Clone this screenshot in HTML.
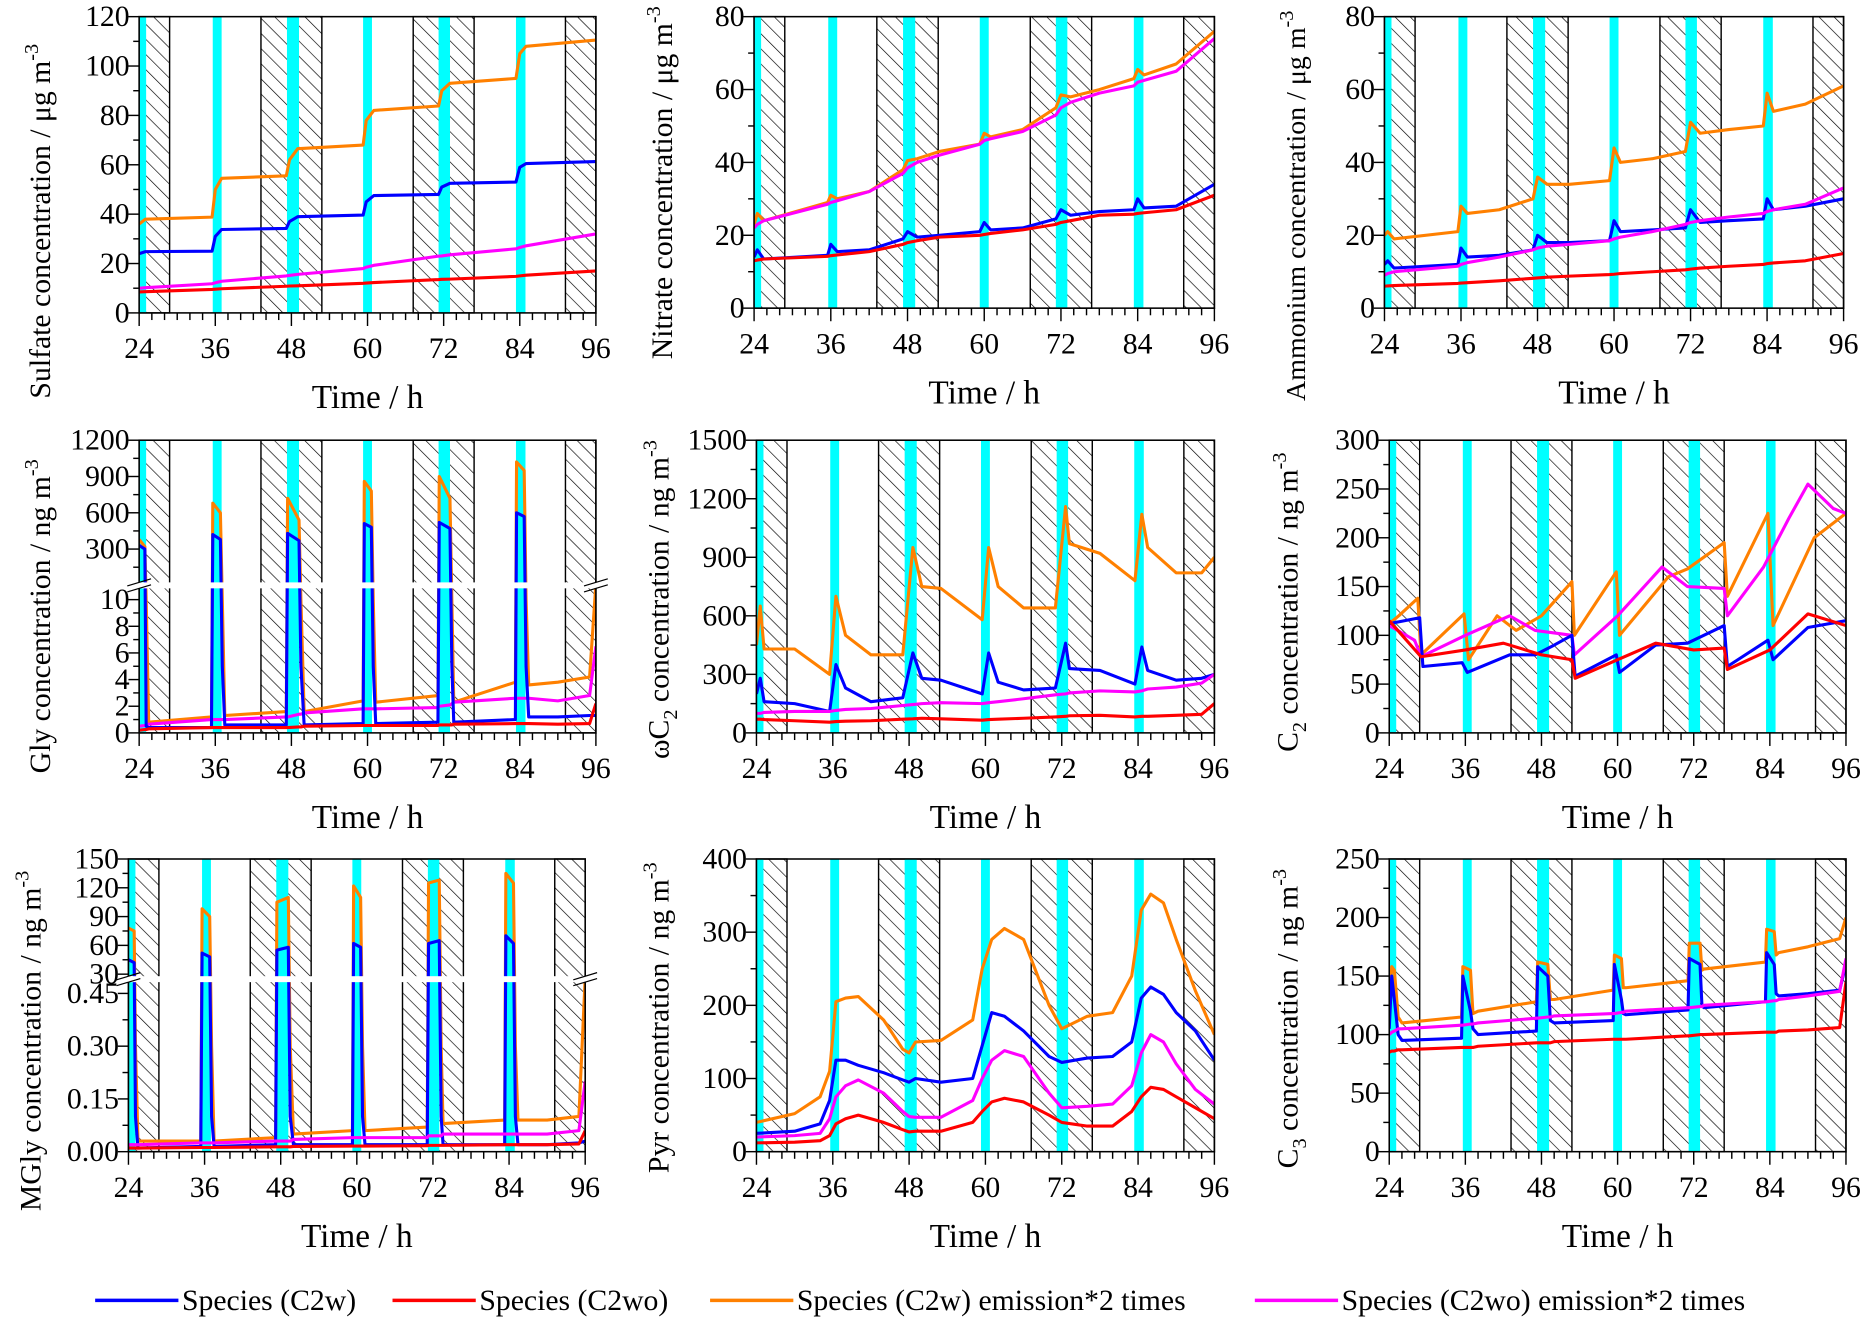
<!DOCTYPE html>
<html><head><meta charset="utf-8"><style>
html,body{margin:0;padding:0;background:#fff;}
svg{display:block;font-family:"Liberation Serif",serif;}
</style></head><body>
<svg id="fig" width="1865" height="1323" viewBox="0 0 1568 1112" preserveAspectRatio="none" xmlns="http://www.w3.org/2000/svg">
<defs>
<pattern id="hatch" patternUnits="userSpaceOnUse" width="9" height="9" patternTransform="rotate(-45)">
<line x1="0" y1="-1" x2="0" y2="10" stroke="#000" stroke-width="1.1"/>
</pattern>
</defs>
<rect x="0" y="0" width="1568" height="1112" fill="#fff"/>
</svg>
<script>
// ---- shared shading periods ----
const nightStart=[24,43.2,67.2,91.2];
const nightEnd=[28.8,52.8,76.8,96];
const cyanStart=[24,35.6,47.3,59.3,71.2,83.4];
const cyanEnd=[25.1,37.0,49.2,60.7,73.0,84.9];
const xTicks=[24,36,48,60,72,84,96];

// ---- Panel 1 Sulfate ----
const p1_t=[24,25,35.5,36,37,47.2,47.7,49,59.3,59.8,61,71.2,71.7,73,83.4,84,85,96];
const p1_orange=[36,38,38.8,50,54.5,55.5,62,66.5,68,78,82,83.8,90,93,95,105,108,110.5];
const p1_blue=[24,24.8,25,31,33.8,34.2,37,39,39.6,45,47.5,48,51,52.5,53,59,60.5,61.3];
const p1_magenta=[10,10.2,11.8,12.2,12.8,15,15.2,15.6,18,18.5,19.3,23,23.1,23.5,26,26.5,27.2,32];
const p1_red=[8.5,8.6,9.5,9.6,9.8,10.8,10.9,11,12,12.1,12.3,13.5,13.6,13.7,14.8,15,15.3,17];
// ---- Panel 2 Nitrate ----
const p2_t=[24,24.5,25.5,35.5,36,37,42,47.3,48,49.5,53,59.3,60,61,66,71.2,72,73.5,78,83.4,84,85,90,96];
const p2_orange=[23,26,24,29,31,30,32,38,40.5,41,43,45,48,47,49,55,58.5,58,60,63,65.5,64,67,76];
const p2_magenta=[22,23,24,28.5,29,29.5,32,37,38.5,40,42,45,46,46.5,48.5,53,55,56.5,59,61,62,62.5,65,74];
const p2_blue=[14,16,13.5,14.5,17.5,15.5,16,19,21,19.5,20,21,23.5,21.5,22,24.5,27,25.5,26.5,27,30,27.5,28,34];
const p2_red=[13,13.2,13.5,14.2,14.4,14.6,15.5,17.5,18,18.5,19.5,20,20.2,20.5,21.5,23,23.5,24,25.5,25.8,26,26.2,27,31];
// ---- Panel 3 Ammonium ----
const p3_t=p2_t;
const p3_orange=[20,21,19,21,28,26,27,30,36,34,34,35,44,40,41,43,51,48,49,50,59,54,56,61];
const p3_blue=[12,13,11,12,16.5,14,14.5,16,20,18,18,18.5,24,21,21.5,22,27,23.5,24,24.5,30,27,28,30];
const p3_magenta=[9,9.5,10,11.5,12,12.5,14,16,16.5,17,17.5,18.5,19,19.5,21,23,23.5,24,25,26,26.5,27,28.5,33];
const p3_red=[6,6.1,6.2,6.8,6.9,7,7.5,8.2,8.3,8.5,8.8,9.2,9.3,9.5,10,10.5,10.7,11,11.5,12,12.2,12.4,13,15];
// ---- Panel 4 Gly ----
const p4_t=[24,24.9,25.1,25.5,35.4,35.6,36.8,37.1,37.5,47.2,47.4,49.2,49.5,50,59.3,59.5,60.6,60.9,61.3,71.1,71.3,73,73.3,73.6,83.3,83.5,84.7,85,85.4,90,95,96];
const p4_orange=[380,320,10,0.8,1.2,680,600,10,1.3,1.6,720,540,10,1.6,2.4,860,780,10,2.3,2.8,900,720,10,2.3,3.8,1020,950,10,3.6,3.8,4.2,11];
const p4_blue=[330,300,0.5,0.4,0.4,420,380,5,0.6,0.6,430,370,5,0.6,0.7,510,480,5,0.7,0.8,520,470,5,0.8,1.0,600,570,5,1.2,1.2,1.3,1.3];
const p4_magenta=[0.5,0.55,0.6,0.65,1.0,1.0,1.0,1.0,1.0,1.2,1.2,1.4,1.4,1.5,1.8,1.8,1.8,1.8,1.8,1.9,2.0,2.1,2.2,2.3,2.6,2.6,2.6,2.6,2.6,2.4,2.8,6.5];
const p4_red=[0.2,0.25,0.25,0.3,0.4,0.4,0.4,0.4,0.4,0.4,0.4,0.45,0.45,0.5,0.55,0.55,0.55,0.55,0.55,0.55,0.6,0.6,0.6,0.65,0.7,0.7,0.7,0.7,0.7,0.65,0.7,2.2];
// ---- Panel 5 wC2 ----
const p5_t=[24,24.6,25.2,30,35.5,36.5,38,42,47,48.6,50,53,59.5,60.5,62,66,71,72.6,73.2,78,83.5,84.6,85.5,90,94,96];
const p5_orange=[450,650,430,430,300,700,500,400,400,950,750,740,580,950,750,640,640,1160,970,920,780,1120,950,820,820,900];
const p5_blue=[200,280,160,150,110,350,230,160,180,410,280,270,200,410,260,220,230,460,330,320,250,440,320,270,280,300];
const p5_magenta=[100,100,105,110,110,115,120,125,140,145,150,155,150,155,160,175,195,200,205,215,210,215,225,235,255,300];
const p5_red=[70,70,68,62,55,58,60,62,70,72,75,72,65,68,70,75,82,85,88,90,82,85,85,90,95,150];
// ---- Panel 6 C2 ----
const p6_orange_t=[24,25.5,28.5,29,35.8,36.5,41,44,48,52.8,53.2,59.8,60.3,68,71,76.8,77.3,83.7,84.5,91,96];
const p6_orange=[112,120,138,80,122,75,120,105,120,155,100,165,100,160,168,195,140,225,110,200,225];
const p6_magenta_t=[24,28,29,36,43,47,52.8,53.2,60,67,71,76.8,77.3,83,87,90,94,96];
const p6_magenta=[110,95,78,100,120,105,100,80,120,170,150,148,120,170,220,255,230,225];
const p6_blue_t=[24,28.8,29.3,35.5,36.3,43,47,50,52.8,53.3,59.8,60.3,66,71,76.8,77.3,83.7,84.5,90,96];
const p6_blue=[112,118,68,72,62,80,80,90,100,58,80,62,90,92,110,68,95,75,108,115];
const p6_red_t=[24,29,36,42,48,52.8,53.3,60,66,72,76.8,77.3,84,90,96];
const p6_red=[115,78,85,92,80,75,56,75,92,85,87,65,85,122,110];
// ---- Panel 7 MGly ----
const p7_t=p4_t;
const p7_orange=[78,75,0.3,0.03,0.03,98,90,0.3,0.03,0.04,105,110,0.3,0.05,0.06,122,110,0.3,0.06,0.07,125,128,0.3,0.08,0.09,135,125,0.3,0.09,0.09,0.1,0.5];
const p7_blue=[45,42,0.1,0.01,0.015,52,48,0.1,0.015,0.02,55,58,0.1,0.02,0.02,62,58,0.1,0.02,0.02,62,65,0.1,0.02,0.02,70,62,0.1,0.02,0.02,0.025,0.03];
const p7_magenta=[0.02,0.02,0.02,0.02,0.025,0.025,0.025,0.025,0.025,0.03,0.03,0.03,0.03,0.035,0.04,0.04,0.04,0.04,0.04,0.04,0.045,0.045,0.045,0.05,0.05,0.05,0.05,0.05,0.05,0.05,0.06,0.2];
const p7_red=[0.01,0.01,0.01,0.01,0.012,0.012,0.012,0.012,0.012,0.014,0.014,0.014,0.014,0.015,0.016,0.016,0.016,0.016,0.016,0.017,0.018,0.018,0.018,0.018,0.02,0.02,0.02,0.02,0.02,0.02,0.022,0.06];
// ---- Panel 8 Pyr ----
const p8_t=[24,30,34,35.5,36.5,38,40,44,47,48,49,53,58,59.5,61,63,66,70,72,76,80,83,84.5,86,88,90,93,96];
const p8_orange=[40,52,75,110,205,210,212,180,140,135,150,152,180,250,290,305,290,200,168,185,190,240,330,352,340,290,220,160];
const p8_blue=[25,28,38,70,125,125,118,108,98,95,100,95,100,145,190,185,165,130,122,128,130,150,210,225,215,190,165,125];
const p8_magenta=[20,22,25,45,75,90,98,80,55,48,47,47,70,100,125,138,130,80,60,62,65,90,135,160,150,120,85,65];
const p8_red=[12,13,15,22,38,45,50,40,30,27,28,28,40,55,68,73,68,50,40,35,35,55,75,88,85,75,60,45];
// ---- Panel 9 C3 ----
const p9_t=[24,24.4,24.8,25.4,26,35.4,35.6,36.8,37.2,38,47.2,47.4,49.0,49.4,50,59.3,59.5,60.6,60.9,61.3,71.1,71.3,73,73.3,73.6,83.3,83.5,84.7,85,85.4,90,95,96];
const p9_orange=[120,158,155,115,110,115,158,155,118,120,128,162,160,130,130,138,168,165,140,140,146,178,178,155,156,162,190,188,168,170,175,182,200];
const p9_blue=[105,150,130,100,95,97,150,120,105,100,103,158,150,112,110,112,160,130,118,117,121,165,160,125,123,128,170,160,135,133,135,138,160];
const p9_magenta=[100,102,103,105,105,108,108,109,109,110,114,114,115,115,116,118,118,119,119,120,123,123,124,124,125,128,128,129,129,130,133,137,165];
const p9_red=[85,86,86,87,87,89,89,89,89,90,93,93,93,93,94,96,96,96,96,96,99,99,100,100,100,102,102,102,102,103,104,106,145];

const COL={blue:"#0000ff",red:"#ff0000",orange:"#ff8000",magenta:"#ff00ff"};
const NS="http://www.w3.org/2000/svg";
const svg=document.getElementById('fig');
function mk(tag,attrs,parent){const e=document.createElementNS(NS,tag);for(const k in attrs)e.setAttribute(k,attrs[k]);(parent||svg).appendChild(e);return e;}

function linScale(y0,y1,max){return v=>y1-v/max*(y1-y0);}
function brokenScale(lowZero,lowPpu,lowMax,upZero,upPpu,breakY){
  return v=> v<=lowMax ? lowZero-v*lowPpu : Math.min(breakY, upZero-v*upPpu);
}

const panels=[
 {id:'sulfate',x0:117,x1:501,y0:14,y1:263,ys:linScale(14,263,120),maj:[0,20,40,60,80,100,120],min:[10,30,50,70,90,110],titleX:33,titleY:335,
  title:['Sulfate concentration / μg m','-3'],
  series:[['orange',p1_t,p1_orange],['blue',p1_t,p1_blue],['magenta',p1_t,p1_magenta],['red',p1_t,p1_red]]},
 {id:'nitrate',x0:634,x1:1021,y0:14,y1:259,ys:linScale(14,259,80),maj:[0,20,40,60,80],min:[10,30,50,70],titleX:556,titleY:302,
  title:['Nitrate concentration / μg m','-3'],
  series:[['orange',p2_t,p2_orange],['magenta',p2_t,p2_magenta],['blue',p2_t,p2_blue],['red',p2_t,p2_red]]},
 {id:'ammonium',x0:1164,x1:1550,y0:14,y1:259,ys:linScale(14,259,80),maj:[0,20,40,60,80],min:[10,30,50,70],titleX:1088,titleY:337,fs:23.5,
  title:['Ammonium concentration / μg m','-3'],
  series:[['orange',p3_t,p3_orange],['blue',p3_t,p3_blue],['magenta',p3_t,p3_magenta],['red',p3_t,p3_red]]},
 {id:'gly',x0:117,x1:501,y0:370,y1:616,ys:brokenScale(616,11.2,10.9,492,122/1200,491),maj:[0,2,4,6,8,10,300,600,900,1200],min:[1,3,5,7,9,150,450,750,1050],titleX:33,titleY:650,
  labels:{0:'0',2:'2',4:'4',6:'6',8:'8',10:'10',300:'300',600:'600',900:'900',1200:'1200'},breakY:492,
  title:['Gly concentration / ng m','-3'],
  series:[['orange',p4_t,p4_orange],['magenta',p4_t,p4_magenta],['blue',p4_t,p4_blue],['red',p4_t,p4_red]]},
 {id:'wc2',x0:636,x1:1021,y0:370,y1:616,ys:linScale(370,616,1500),maj:[0,300,600,900,1200,1500],min:[150,450,750,1050,1350],titleX:553,titleY:638,
  title:['ωC','2',' concentration / ng m','-3'],
  series:[['orange',p5_t,p5_orange],['blue',p5_t,p5_blue],['magenta',p5_t,p5_magenta],['red',p5_t,p5_red]]},
 {id:'c2',x0:1168,x1:1552,y0:370,y1:616,ys:linScale(370,616,300),maj:[0,50,100,150,200,250,300],min:[25,75,125,175,225,275],titleX:1082,titleY:632,
  title:['C','2',' concentration / ng m','-3'],
  series:[['orange',p6_orange_t,p6_orange],['magenta',p6_magenta_t,p6_magenta],['blue',p6_blue_t,p6_blue],['red',p6_red_t,p6_red]]},
 {id:'mgly',x0:108,x1:492,y0:722,y1:968,ys:brokenScale(968,295.6,0.487,843,121/150,822),maj:[0,0.15,0.3,0.45,30,60,90,120,150],min:[0.075,0.225,0.375,45,75,105,135],titleX:25,titleY:1018,
  labels:{0:'0.00',0.15:'0.15',0.3:'0.30',0.45:'0.45',30:'30',60:'60',90:'90',120:'120',150:'150'},breakY:823,
  title:['MGly concentration / ng m','-3'],
  series:[['orange',p7_t,p7_orange],['blue',p7_t,p7_blue],['magenta',p7_t,p7_magenta],['red',p7_t,p7_red]]},
 {id:'pyr',x0:636,x1:1021,y0:722,y1:968,ys:linScale(722,968,400),maj:[0,100,200,300,400],min:[50,150,250,350],titleX:553,titleY:986,
  title:['Pyr concentration / ng m','-3'],
  series:[['orange',p8_t,p8_orange],['blue',p8_t,p8_blue],['magenta',p8_t,p8_magenta],['red',p8_t,p8_red]]},
 {id:'c3',x0:1168,x1:1552,y0:722,y1:968,ys:linScale(722,968,250),maj:[0,50,100,150,200,250],min:[25,75,125,175,225],titleX:1082,titleY:982,
  title:['C','3',' concentration / ng m','-3'],
  series:[['orange',p9_t,p9_orange],['blue',p9_t,p9_blue],['magenta',p9_t,p9_magenta],['red',p9_t,p9_red]]}
];

panels.forEach((p,pi)=>{
  const g=mk('g',{});
  
  
  const xs=t=>p.x0+(t-24)/72*(p.x1-p.x0);
  const H=p.y1-p.y0;
  const clipId='clip'+pi;
  const cp=mk('clipPath',{id:clipId},g);
  mk('rect',{x:p.x0,y:p.y0,width:p.x1-p.x0,height:H},cp);
  nightStart.forEach((s,i)=>{
    const r=mk('rect',{x:xs(s),y:p.y0,width:xs(nightEnd[i])-xs(s),height:H,fill:'url(#hatch)',stroke:'#000','stroke-width':1.2},g);
    
    
  });
  cyanStart.forEach((s,i)=>{
    const r=mk('rect',{x:xs(s),y:p.y0,width:xs(cyanEnd[i])-xs(s),height:H,fill:'#00ffff'},g);
    
    
  });
  const sg=mk('g',{'clip-path':'url(#'+clipId+')'},g);
  p.series.forEach(s=>{
    const [c,ts,vs]=s;
    const d=ts.map((t,i)=>(i?'L':'M')+xs(t).toFixed(1)+','+p.ys(vs[i]).toFixed(1)).join('');
    const path=mk('path',{d:d,fill:'none',stroke:COL[c],'stroke-width':2.6,'stroke-linejoin':'round'},sg);
    
    
  });
  if(p.breakY){
    mk('rect',{x:p.x0+1,y:p.breakY-2.5,width:p.x1-p.x0-2,height:5,fill:'#fff'},g);
  }
  const fr=mk('rect',{x:p.x0,y:p.y0,width:p.x1-p.x0,height:H,fill:'none',stroke:'#000','stroke-width':1.3},g);
  
  
  if(p.breakY){
    mk('rect',{x:p.x0-4,y:p.breakY-2.5,width:8,height:5,fill:'#fff'},g);
    mk('rect',{x:p.x1-4,y:p.breakY-2.5,width:8,height:5,fill:'#fff'},g);
    [-2.5,2.5].forEach(o=>{
      mk('line',{x1:p.x0-10,y1:p.breakY+o+3,x2:p.x0+10,y2:p.breakY+o-3,stroke:'#000','stroke-width':1},g);
      mk('line',{x1:p.x1-10,y1:p.breakY+o+3,x2:p.x1+10,y2:p.breakY+o-3,stroke:'#000','stroke-width':1},g);
    });
  }
  for(let t=24;t<=96;t+=2){
    const major=(t-24)%12===0;
    mk('line',{x1:xs(t),y1:p.y1,x2:xs(t),y2:p.y1+(major?11:6),stroke:'#000','stroke-width':1.2},g);
  }
  xTicks.forEach(t=>{
    const tx=mk('text',{x:xs(t),y:p.y1+38,'font-size':25,'text-anchor':'middle'},g);
    tx.textContent=t;
    
    
  });
  const xt=mk('text',{x:(p.x0+p.x1)/2,y:p.y1+80,'font-size':28,'text-anchor':'middle'},g);
  xt.textContent='Time / h';
  
  
  p.maj.forEach(v=>{
    const y=p.ys(v);
    mk('line',{x1:p.x0-9,y1:y,x2:p.x0,y2:y,stroke:'#000','stroke-width':1.2},g);
    const tx=mk('text',{x:p.x0-8,y:y+8,'font-size':25,'text-anchor':'end'},g);
    tx.textContent=p.labels?p.labels[v]:String(v);
    
    
  });
  p.min.forEach(v=>{
    const y=p.ys(v);
    mk('line',{x1:p.x0-5,y1:y,x2:p.x0,y2:y,stroke:'#000','stroke-width':1.2},g);
  });
  const fs=p.fs||25;
  const yt=mk('text',{x:0,y:0,'font-size':fs,'text-anchor':'start',transform:'translate('+(p.titleX+9)+','+p.titleY+') rotate(-90)'},g);
  
  
  const parts=p.title;
  if(parts.length===2){
    const a=mk('tspan',{},yt);a.textContent=parts[0];
    const b=mk('tspan',{dy:-10,'font-size':17},yt);b.textContent=parts[1];
  } else {
    const a=mk('tspan',{},yt);a.textContent=parts[0];
    const b=mk('tspan',{dy:7,'font-size':17},yt);b.textContent=parts[1];
    const c=mk('tspan',{dy:-7},yt);c.textContent=parts[2];
    const d=mk('tspan',{dy:-10,'font-size':17},yt);d.textContent=parts[3];
  }
});

const legItems=[['blue','Species (C2w)',80],['red','Species (C2wo)',330],['orange','Species (C2w) emission*2 times',597],['magenta','Species (C2wo) emission*2 times',1055]];
const lg=mk('g',{});


legItems.forEach(it=>{
  const e=mk('g',{},lg);
  
  
  mk('line',{x1:it[2],y1:1093,x2:it[2]+70,y2:1093,stroke:COL[it[0]],'stroke-width':3},e);
  const t=mk('text',{x:it[2]+73,y:1101,'font-size':25},e);
  t.textContent=it[1];
});
</script>
</body></html>
